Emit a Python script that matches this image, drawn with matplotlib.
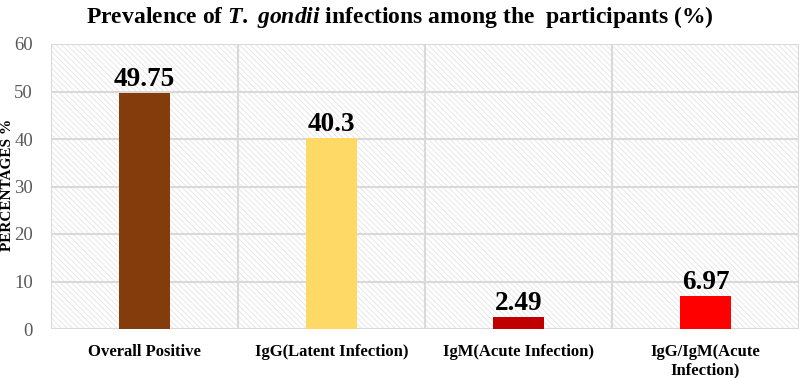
import matplotlib
matplotlib.use("Agg")
import matplotlib.pyplot as plt
import numpy as np

categories = ["Overall Positive", "IgG(Latent Infection)", "IgM(Acute Infection)",
              "IgG/IgM(Acute\nInfection)"]
values = [49.75, 40.3, 2.49, 6.97]
value_labels = ["49.75", "40.3", "2.49", "6.97"]
colors = ["#843C0C", "#FFD966", "#C00000", "#FF0000"]

plt.rcParams["font.family"] = "Liberation Serif"
plt.rcParams["mathtext.fontset"] = "custom"
plt.rcParams["mathtext.bf"] = "Liberation Serif:bold"
plt.rcParams["mathtext.bfit"] = "Liberation Serif:bold:italic"
plt.rcParams["mathtext.it"] = "Liberation Serif:italic"
plt.rcParams["mathtext.rm"] = "Liberation Serif"
plt.rcParams["hatch.linewidth"] = 0.6

fig = plt.figure(figsize=(8, 3.78), dpi=100)
ax = fig.add_axes([51 / 800, 1 - 329 / 378, 748 / 800, 285 / 378])

grid_col = "#D9D9D9"
ax.patch.set_facecolor("white")
ax.patch.set_hatch("\\\\\\\\\\\\")
ax.patch.set_edgecolor("#E4E4E4")

x = np.arange(len(categories))
ax.bar(x, values, width=0.27, color=colors, zorder=3)

for xi, v, lab in zip(x, values, value_labels):
    ax.text(xi, v + 0.2, lab, ha="center", va="bottom", fontsize=19.5,
            fontweight="bold", zorder=4)

ax.set_xlim(-0.5, len(categories) - 0.5)
ax.set_ylim(0, 60)
ax.set_yticks(range(0, 61, 10))
ax.set_xticks(x)
ax.set_xticklabels(categories, fontweight="bold", fontsize=12, linespacing=1.15)
ax.tick_params(axis="both", length=0)
ax.tick_params(axis="y", labelcolor="#595959", labelsize=13.5, pad=13)
ax.tick_params(axis="x", pad=11)

for y in range(10, 61, 10):
    ax.axhline(y, color=grid_col, linewidth=1.5, zorder=1)
for b in np.arange(0.5, len(categories) - 0.5, 1):
    ax.axvline(b, color=grid_col, linewidth=1.5, zorder=1)
for s in ax.spines.values():
    s.set_visible(False)
ax.axhline(0, color=grid_col, linewidth=1.5, zorder=2)
ax.axvline(-0.5, color=grid_col, linewidth=1.5, zorder=2)
ax.axvline(len(categories) - 0.5, color=grid_col, linewidth=1.5, zorder=2)

# y label placed by hand so it hugs the left edge like the original
fig.text(0.009, 0.51, "PERCENTAGES %", rotation=90, ha="center", va="center",
         fontweight="bold", fontsize=11)

fig.text(0.5, 0.955, r"Prevalence of $\mathbfit{T.}$ $\mathbfit{gondii}$ infections among the  participants (%)",
         ha="center", va="center", fontsize=17, fontweight="bold")

fig.savefig("out.png", dpi=100)
